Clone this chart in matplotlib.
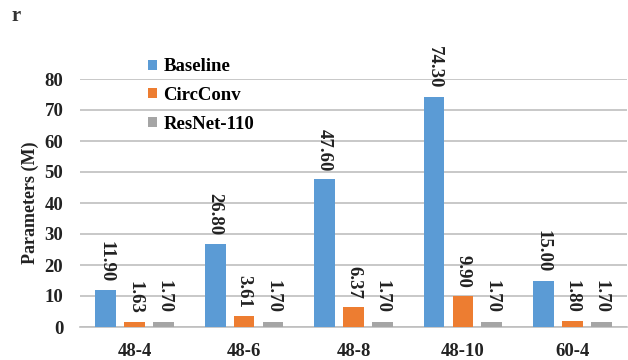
import numpy as np
import matplotlib
matplotlib.use('Agg')
import matplotlib.pyplot as plt

plt.rcParams['font.family'] = ['Liberation Serif', 'DejaVu Serif']
plt.rcParams['font.weight'] = 'bold'

# data
configs = ['48-4', '48-6', '48-8', '48-10', '60-4']
baseline = [11.90, 26.80, 47.60, 74.30, 15.00]
circconv = [1.63, 3.61, 6.37, 9.90, 1.80]
resnet110 = [1.70, 1.70, 1.70, 1.70, 1.70]

series = [('Baseline', baseline, '#5B9BD5'),
          ('CircConv', circconv, '#ED7D31'),
          ('ResNet-110', resnet110, '#A5A5A5')]

fig = plt.figure(figsize=(6.28, 3.6), dpi=100)
ax = fig.add_axes([80/628, 1 - 327/360, 547/628, 248/360])

x = np.arange(len(configs))
step = 0.265
width = 0.19
handles = []
for i, (name, vals, col) in enumerate(series):
    pos = x + (i - 1) * step
    b = ax.bar(pos, vals, width, color=col, label=name, zorder=3)
    handles.append(b)
    for px, v in zip(pos, vals):
        ax.annotate('%.2f' % v, (px, v), xytext=(0, 6), textcoords='offset points',
                    rotation=270, ha='center', va='bottom', fontsize=13.5,
                    fontweight='bold', color='#222222')

ax.set_xlim(-0.5, len(configs) - 0.5)
ax.set_ylim(0, 80)
ax.set_yticks(range(0, 81, 10))
ax.set_xticks(x)
ax.set_xticklabels(configs)
ax.tick_params(axis='both', length=0, labelsize=13.5, colors='#222222')
ax.tick_params(axis='x', pad=11.5)
ax.tick_params(axis='y', pad=12)
ax.grid(axis='y', color='#BFBFBF', linewidth=1.2, zorder=0)
for s in ['top', 'right', 'left']:
    ax.spines[s].set_visible(False)
ax.spines['bottom'].set_color('#BFBFBF')
ax.spines['bottom'].set_linewidth(1.2)

ax.set_ylabel('Parameters (M)', fontsize=13, fontweight='bold', color='#222222', labelpad=4)

fig.legend(handles=handles, loc='upper left', bbox_to_anchor=(139/628, 1 - 49/360),
           frameon=False, fontsize=13.5, handlelength=0.45, handleheight=0.45,
           handletextpad=0.35, labelspacing=0.62, borderpad=0)

fig.text(11/628, 1 - 16/360, 'r', fontsize=15, fontweight='bold', color='#333333',
         va='center', ha='left')

fig.savefig('out.png', dpi=100)
